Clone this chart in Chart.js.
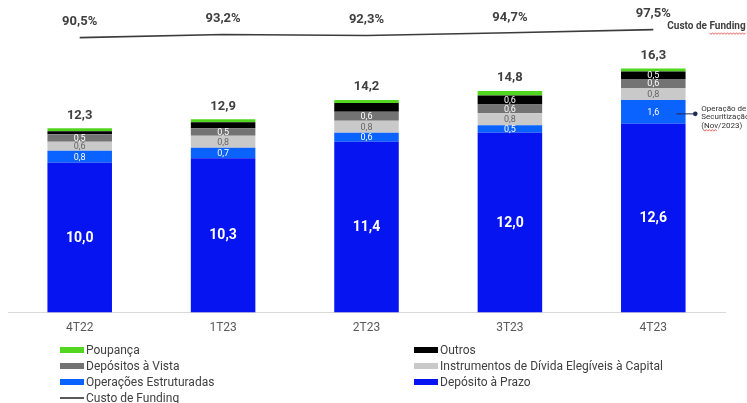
<!DOCTYPE html>
<html lang="pt-BR">
<head>
<meta charset="utf-8">
<script src="https://cdn.jsdelivr.net/npm/chart.js@4.4.1/dist/chart.umd.min.js"></script>
<style>
  body { margin: 0; background: #fff; font-family: Roboto, sans-serif; }
  #wrap { position: relative; width: 747px; height: 403px; overflow: hidden; }
  #legend { position: absolute; left: 0; top: 342px; width: 747px; height: 61px; }
  .item { position: absolute; display: flex; align-items: center; height: 16px; font-size: 12px; color: #404040; white-space: nowrap; }
  .sw { width: 24px; height: 6px; margin-right: 2px; }
  .sw.line { height: 2px; }
</style>
</head>
<body>
<div id="wrap">
  <canvas id="chart" width="747" height="345"></canvas>
  <div id="legend"></div>
</div>
<script>
const quarters = ['4T22', '1T23', '2T23', '3T23', '4T23'];
const depositoPrazo = [10.0, 10.3, 11.4, 12.0, 12.6];
const operacoesEstruturadas = [0.8, 0.7, 0.6, 0.5, 1.6];
const instrumentosDivida = [0.6, 0.8, 0.8, 0.8, 0.8];
const depositosVista = [0.5, 0.5, 0.6, 0.6, 0.6];
const outros = [0.2, 0.4, 0.6, 0.6, 0.5];
const poupanca = [0.2, 0.2, 0.2, 0.3, 0.2];
const totals = [12.3, 12.9, 14.2, 14.8, 16.3];
const custoFunding = [90.5, 93.2, 92.3, 94.7, 97.5];

const colors = {
    prazo: '#0514f0',
    estruturadas: '#0a62ff',
    instrumentos: '#c9c9c9',
    vista: '#737373',
    outros: '#000000',
    poupanca: '#52d61f',
    funding: '#3c3c3c'
};

const fmt = v => v.toFixed(1).replace('.', ',');

function bar(label, data, color) {
    return {
        label: label,
        data: data,
        backgroundColor: color,
        borderWidth: 0,
        barPercentage: 0.9,
        categoryPercentage: 0.5,
        stack: 'funding',
        yAxisID: 'y',
        order: 1
    };
}

const datasets = [
    bar('Depósito à Prazo', depositoPrazo, colors.prazo),
    bar('Operações Estruturadas', operacoesEstruturadas, colors.estruturadas),
    bar('Instrumentos de Dívida Elegíveis à Capital', instrumentosDivida, colors.instrumentos),
    bar('Depósitos à Vista', depositosVista, colors.vista),
    bar('Outros', outros, colors.outros),
    bar('Poupança', poupanca, colors.poupanca),
    {
        type: 'line',
        label: 'Custo de Funding',
        data: custoFunding,
        borderColor: colors.funding,
        backgroundColor: colors.funding,
        borderWidth: 1.6,
        pointRadius: 0,
        tension: 0,
        yAxisID: 'y1',
        order: 0,
        clip: false
    }
];

// the red spell-check squiggle seen in the source slide
function squiggle(ctx, x0, x1, y) {
    ctx.save();
    ctx.strokeStyle = '#e23b3b';
    ctx.lineWidth = 0.8;
    ctx.beginPath();
    let up = true;
    for (let x = x0; x <= x1; x += 1.5) {
        ctx.lineTo(x, up ? y - 0.8 : y + 0.8);
        up = !up;
    }
    ctx.stroke();
    ctx.restore();
}

// value labels, totals, line labels and the note on 4T23
const labelPlugin = {
    id: 'labels',
    afterDatasetsDraw(chart) {
        const ctx = chart.ctx;
        ctx.save();
        ctx.textAlign = 'center';
        ctx.textBaseline = 'middle';

        chart.data.datasets.forEach((ds, di) => {
            if (ds.type === 'line') return;
            const meta = chart.getDatasetMeta(di);
            meta.data.forEach((el, i) => {
                if (ds.label === 'Poupança') return;
                if (ds.label === 'Outros' && i < 3) return;
                const big = ds.label === 'Depósito à Prazo';
                ctx.font = big ? 'bold 14px Roboto' : '9px Roboto';
                ctx.fillStyle = ds.backgroundColor === colors.instrumentos ? '#666666' : '#ffffff';
                ctx.fillText(fmt(ds.data[i]), el.x, (el.y + el.base) / 2 + 0.5);
            });
        });

        // totals above each stack
        const topMeta = chart.getDatasetMeta(5);
        ctx.font = 'bold 13px Roboto';
        ctx.fillStyle = '#404040';
        topMeta.data.forEach((el, i) => {
            ctx.fillText(fmt(totals[i]), el.x, el.y - 13);
        });

        // funding cost labels
        const lineMeta = chart.getDatasetMeta(6);
        lineMeta.data.forEach((pt, i) => {
            ctx.fillText(fmt(custoFunding[i]) + '%', pt.x, pt.y - 15.5);
        });
        const last = lineMeta.data[lineMeta.data.length - 1];
        ctx.font = 'bold 10px Roboto';
        ctx.textAlign = 'left';
        const lx = last.x + 14;
        ctx.fillText('Custo de Funding', lx, last.y - 3);
        const pre = ctx.measureText('Custo de ').width;
        squiggle(ctx, lx + pre, lx + ctx.measureText('Custo de Funding').width, last.y + 4);

        // securitization note
        const seg = chart.getDatasetMeta(1).data[4];
        const y = (seg.y + seg.base) / 2 + 2;
        ctx.strokeStyle = '#1f2a55';
        ctx.lineWidth = 1;
        ctx.beginPath();
        ctx.moveTo(seg.x + 23, y);
        ctx.lineTo(seg.x + 42, y);
        ctx.stroke();
        ctx.fillStyle = '#1f2a55';
        ctx.beginPath();
        ctx.arc(seg.x + 42, y, 2.3, 0, Math.PI * 2);
        ctx.fill();
        ctx.font = '8px Roboto';
        ctx.fillStyle = '#333333';
        ['Operação de', 'Securitização', '(Nov/2023)'].forEach((t, k) => {
            ctx.fillText(t, seg.x + 48, y - 5 + k * 8.5);
        });
        squiggle(ctx, seg.x + 50, seg.x + 64, y + 16.5);
        ctx.restore();
    }
};

new Chart(document.getElementById('chart'), {
    type: 'bar',
    data: { labels: quarters, datasets: datasets },
    options: {
        responsive: false,
        animation: false,
        layout: { padding: { top: 13, left: 8, right: 22, bottom: 2 } },
        plugins: {
            legend: { display: false },
            tooltip: { enabled: false }
        },
        scales: {
            x: {
                stacked: true,
                grid: { display: false, drawTicks: false },
                border: { display: true, color: '#d9d9d9', width: 1 },
                ticks: { font: { family: 'Roboto', size: 12 }, color: '#595959', padding: 8 }
            },
            y: { stacked: true, display: false, min: 0, max: 20 },
            y1: { display: false, min: -150, max: 112 }
        }
    },
    plugins: [labelPlugin]
});

// two column legend, same order as the original
const legendOrder = [5, 4, 3, 2, 1, 0, 6];
const legend = document.getElementById('legend');
legendOrder.forEach((di, k) => {
    const ds = datasets[di];
    const item = document.createElement('div');
    item.className = 'item';
    item.style.left = (k % 2 === 0 ? 60 : 414) + 'px';
    item.style.top = (Math.floor(k / 2) * 16) + 'px';
    const sw = document.createElement('span');
    sw.className = ds.type === 'line' ? 'sw line' : 'sw';
    sw.style.background = ds.type === 'line' ? '#595959' : ds.backgroundColor;
    item.appendChild(sw);
    item.appendChild(document.createTextNode(ds.label));
    legend.appendChild(item);
});
</script>
</body>
</html>
